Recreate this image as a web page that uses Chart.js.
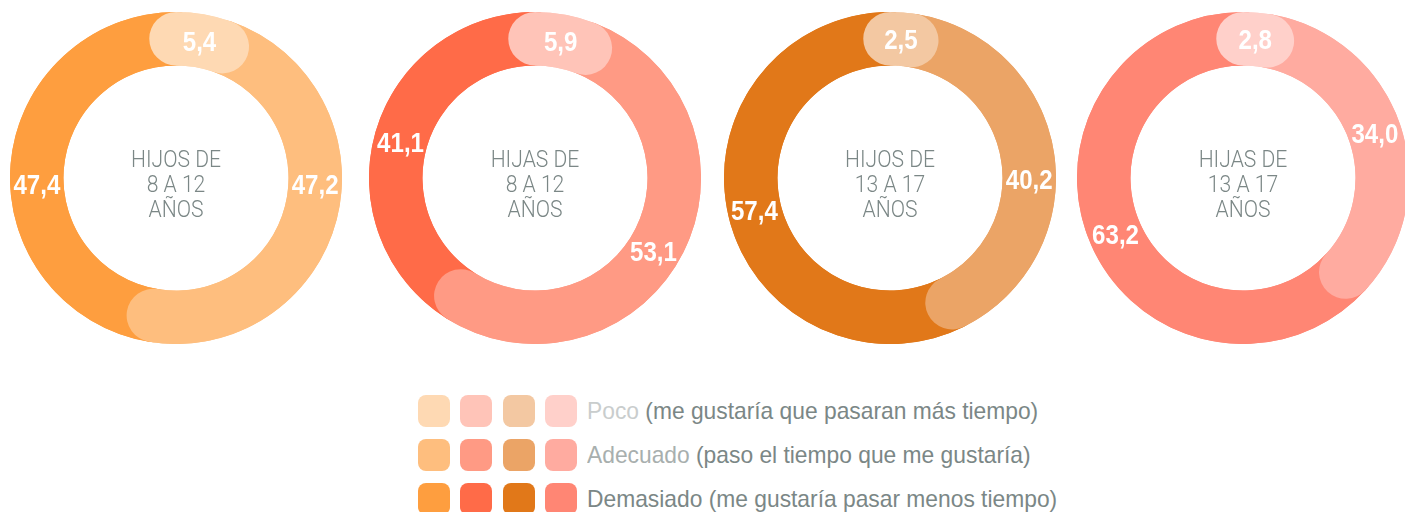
<!DOCTYPE html>
<html>
<head>
<meta charset="utf-8">
<script src="https://cdn.jsdelivr.net/npm/chart.js@4.4.1/dist/chart.umd.min.js"></script>
<style>
  html, body { margin: 0; padding: 0; background: #fff; }
  body { width: 1405px; height: 512px; position: relative; overflow: hidden; }
  canvas.ring { position: absolute; top: 12px; }
  .legend { position: absolute; left: 418px; top: 395px; }
  .row { position: absolute; left: 0; height: 32px; white-space: nowrap; }
  .sw { position: absolute; top: 0; width: 32px; height: 32px; border-radius: 8px; }
  .txt { position: absolute; left: 169px; top: 0; line-height: 32px; font-size: 24px; color: #7b8786;
         font-family: "Liberation Sans", Arial, sans-serif; transform: scaleX(0.95); transform-origin: 0 50%; }
</style>
</head>
<body>
<canvas class="ring" id="c0" width="332" height="332" style="left:10px"></canvas>
<canvas class="ring" id="c1" width="332" height="332" style="left:369px"></canvas>
<canvas class="ring" id="c2" width="332" height="332" style="left:724px"></canvas>
<canvas class="ring" id="c3" width="332" height="332" style="left:1077px"></canvas>
<div class="legend" id="legend"></div>

<script>
// data
const categories = ['Poco', 'Adecuado', 'Demasiado'];
const legendNotes = ['(me gustaría que pasaran más tiempo)', '(paso el tiempo que me gustaría)', '(me gustaría pasar menos tiempo)'];
const groupTitles = [
  ['HIJOS DE', '8 A 12', 'AÑOS'],
  ['HIJAS DE', '8 A 12', 'AÑOS'],
  ['HIJOS DE', '13 A 17', 'AÑOS'],
  ['HIJAS DE', '13 A 17', 'AÑOS']
];
const poco = [5.4, 5.9, 2.5, 2.8];
const adecuado = [47.2, 53.1, 40.2, 34.0];
const demasiado = [47.4, 41.1, 57.4, 63.2];

// colours per group: [poco, adecuado, demasiado]
const palettes = [
  ['#fed9b3', '#febe7e', '#fe9e3f'],
  ['#ffc4b8', '#ff9a84', '#ff6b48'],
  ['#f3c8a2', '#eba466', '#e17819'],
  ['#ffd0ca', '#ffaba0', '#ff8674']
];
// small angle nudges (deg) for value labels so they sit where the original has them
const labelNudge = [[0, -12, -7], [0, 5, -1], [0, 9, 0], [0, 0, 0]];
const legendLabelColors = ['#c9cdcd', '#a8afae', '#7b8786'];

const labelFont = 'bold 28px "Liberation Sans", Arial, sans-serif';
const centerFont = '300 24px Roboto, "Liberation Sans", sans-serif';

const fmt = v => v.toFixed(1).replace('.', ',');

// narrow text: the original uses a condensed face
function narrowText(ctx, text, x, y, sx) {
  ctx.save();
  ctx.translate(x, y);
  ctx.scale(sx, 1);
  ctx.fillText(text, 0, 0);
  ctx.restore();
}

// draws each segment as a round-capped band, last one first, plus the labels
const roundRing = {
  id: 'roundRing',
  afterDatasetsDraw(chart, args, opts) {
    const ctx = chart.ctx;
    const arcs = chart.getDatasetMeta(0).data;
    const values = chart.data.datasets[0].data;
    ctx.save();
    for (let i = arcs.length - 1; i >= 0; i--) {
      const a = arcs[i];
      ctx.beginPath();
      ctx.arc(a.x, a.y, (a.innerRadius + a.outerRadius) / 2, a.startAngle, a.endAngle);
      ctx.lineWidth = a.outerRadius - a.innerRadius;
      ctx.lineCap = 'round';
      ctx.strokeStyle = a.options.backgroundColor;
      ctx.stroke();
    }

    ctx.fillStyle = '#fff';
    ctx.font = labelFont;
    ctx.textAlign = 'center';
    ctx.textBaseline = 'alphabetic';
    arcs.forEach((a, i) => {
      const mid = (a.startAngle + a.endAngle) / 2 + opts.nudge[i] * Math.PI / 180;
      const r = (a.innerRadius + a.outerRadius) / 2;
      narrowText(ctx, fmt(values[i]), a.x + r * Math.cos(mid), a.y + r * Math.sin(mid) + 10, 0.86);
    });

    const c = arcs[0];
    ctx.fillStyle = '#7b8786';
    ctx.font = centerFont;
    opts.title.forEach((line, i) => {
      narrowText(ctx, line, c.x, c.y + 5 + (i - 1) * 25 + 8.5, 0.88);
    });
    ctx.restore();
  }
};

const charts = [];
for (let g = 0; g < 4; g++) {
  charts.push(new Chart(document.getElementById('c' + g), {
    type: 'doughnut',
    data: {
      labels: categories,
      datasets: [{
        data: [poco[g], adecuado[g], demasiado[g]],
        backgroundColor: palettes[g],
        borderWidth: 0
      }]
    },
    options: {
      responsive: false,
      animation: false,
      cutout: '67.8%',
      layout: { padding: 0 },
      events: [],
      plugins: {
        legend: { display: false },
        tooltip: { enabled: false },
        roundRing: { nudge: labelNudge[g], title: groupTitles[g] }
      }
    },
    plugins: [roundRing]
  }));
}

// legend built from the same arrays
const legend = document.getElementById('legend');
categories.forEach((cat, k) => {
  const row = document.createElement('div');
  row.className = 'row';
  row.style.top = (k * 44) + 'px';
  palettes.forEach((p, g) => {
    const sw = document.createElement('span');
    sw.className = 'sw';
    sw.style.left = Math.round(g * 42.3) + 'px';
    sw.style.background = p[k];
    row.appendChild(sw);
  });
  const t = document.createElement('span');
  t.className = 'txt';
  t.innerHTML = '<span style="color:' + legendLabelColors[k] + '">' + cat + '</span> ' + legendNotes[k];
  row.appendChild(t);
  legend.appendChild(row);
});
</script>
</body>
</html>
